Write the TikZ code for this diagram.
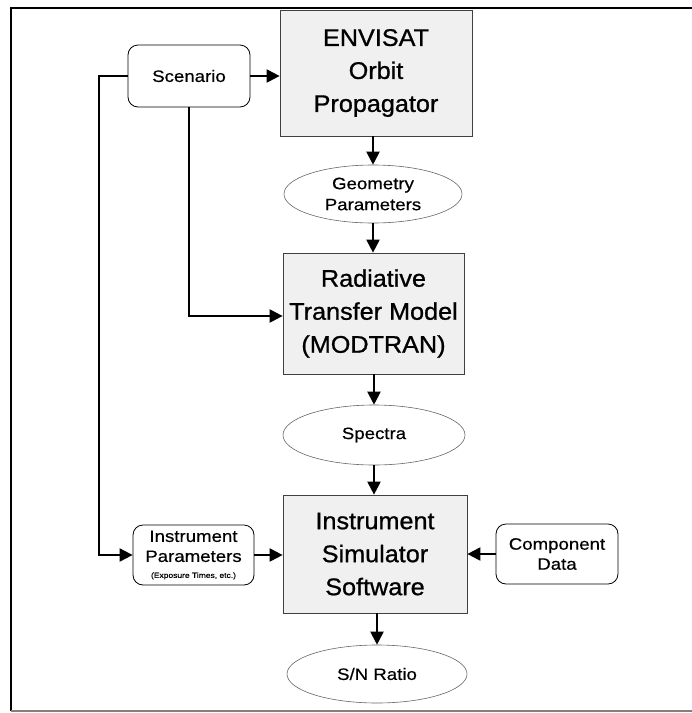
\documentclass[tikz,border=0pt]{standalone}
\usepackage{fontspec}
\setmainfont{Liberation Sans}
\newfontfamily\bigf[FakeStretch=1.05,FakeBold=0.9]{Liberation Sans}
\newfontfamily\smallf[FakeStretch=1.13,FakeBold=0.5]{Liberation Sans}
\usetikzlibrary{arrows.meta,shapes.geometric}
\begin{document}
\begin{tikzpicture}[x=1pt,y=-1pt,
  procbox/.style={draw=black!75,fill=black!6,line width=0.7pt,minimum width=#1,inner sep=0pt,align=center,font=\bigf\fontsize{24}{33}\selectfont},
  databox/.style={draw=black,rounded corners=10pt,line width=0.8pt,inner sep=0pt,align=center,font=\smallf\fontsize{16.5}{20}\selectfont},
  dataell/.style={draw=black!60,ellipse,line width=0.6pt,inner sep=0pt,align=center,font=\smallf\fontsize{16.5}{21}\selectfont},
  flow/.style={line width=2pt,-{Triangle[length=13pt,width=13pt]}}]
\useasboundingbox (0,0) rectangle (692,713);
% frame
\draw[line width=1.2pt] (11,711) -- (11,8) -- (700,8);
\draw[line width=1.2pt,black!50] (11,711) -- (700,711);
% process boxes
\node[procbox=192pt,minimum height=126pt] (env) at (376,73) {ENVISAT\\Orbit\\Propagator};
\node[procbox=181pt,minimum height=121pt] (rtm) at (373.5,313.5) {Radiative\\Transfer Model\\(MODTRAN)};
\node[procbox=184pt,minimum height=118pt] (iss) at (375,554) {Instrument\\Simulator\\Software};
% data boxes
\node[databox,minimum width=122pt,minimum height=62pt] (scen) at (189,76) {Scenario};
\node[databox,minimum width=121pt,minimum height=60pt] (ipar) at (193.5,555) {Instrument\\Parameters\\[-4pt]{\fontsize{7.5}{9}\selectfont (Exposure Times, etc.)}};
\node[databox,minimum width=122pt,minimum height=60pt] (comp) at (557,554) {Component\\Data};
% ellipses
\node[dataell,minimum width=178pt,minimum height=58pt] (geo) at (373,194) {Geometry\\Parameters};
\node[dataell,minimum width=182pt,minimum height=60pt] (spec) at (374,435) {Spectra};
\node[dataell,minimum width=180pt,minimum height=58pt] (sn) at (377,674) {S/N Ratio};
% connectors
\draw[flow] (scen.east) -- (env.west |- scen.east);
\draw[flow] (env.south -| geo.north) -- (geo.north);
\draw[flow] (geo.south) -- (rtm.north -| geo.south);
\draw[flow] (rtm.south -| spec.north) -- (spec.north);
\draw[flow] (spec.south) -- (iss.north -| spec.south);
\draw[flow] (iss.south -| sn.north) -- (sn.north);
\draw[flow] (scen.south) -- (scen.south |- 0,316) -- (rtm.west |- 0,316);
\draw[flow] (scen.west) -- (99,76) -- (99,555) -- (ipar.west);
\draw[flow] (ipar.east) -- (iss.west |- ipar.east);
\draw[flow] (comp.west) -- (iss.east |- comp.west);
\end{tikzpicture}
\end{document}
